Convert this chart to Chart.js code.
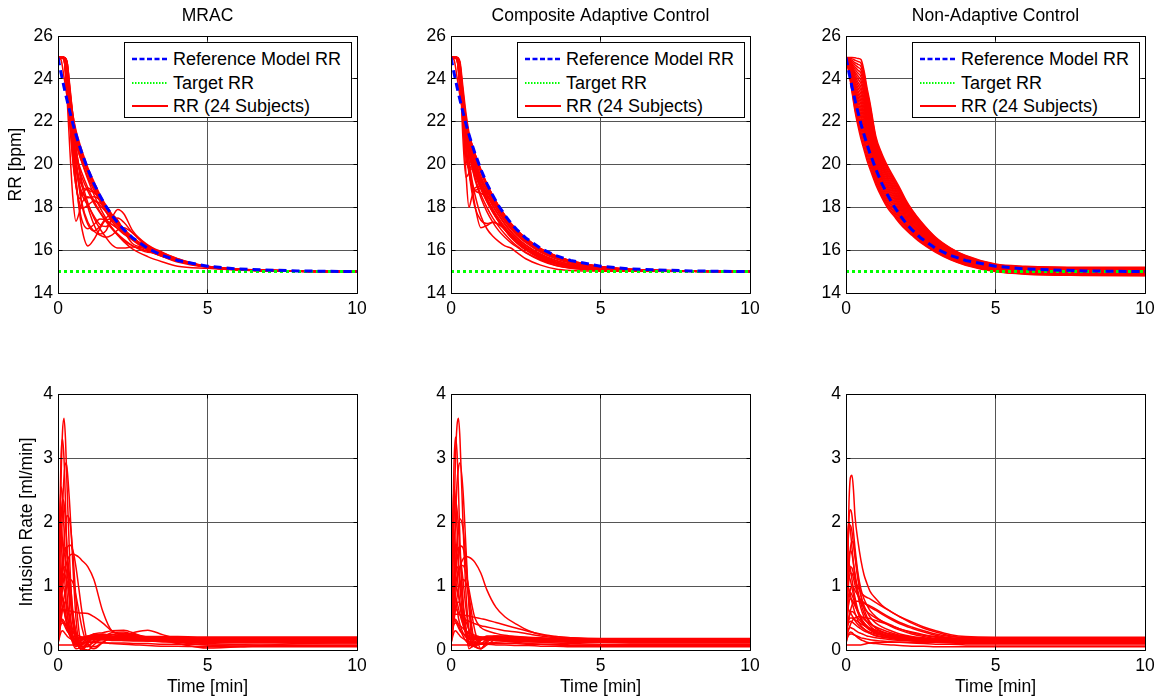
<!DOCTYPE html>
<html>
<head>
<meta charset="utf-8">
<script src="https://cdn.jsdelivr.net/npm/chart.js@4.4.1/dist/chart.umd.min.js"></script>
<style>
  body { margin: 0; background: #fff; width: 1163px; height: 700px; overflow: hidden; position: relative;
         font-family: 'Liberation Sans', Arial, Helvetica, sans-serif; }
  canvas { position: absolute; }
  .legend { position: absolute; box-sizing: border-box; width: 228px; height: 76px; border: 1px solid #000; background: #fff; }
  .legend .row { position: absolute; left: 0; height: 22px; line-height: 22px; font-size: 18px; color: #000; white-space: nowrap; }
  .legend .row svg { position: absolute; left: 7px; top: 0; }
  .legend .row span { position: absolute; left: 48px; top: 0; }
</style>
</head>
<body>
<canvas id="rrMrac"></canvas>
<canvas id="rrComposite"></canvas>
<canvas id="rrNonAdaptive"></canvas>
<canvas id="infMrac"></canvas>
<canvas id="infComposite"></canvas>
<canvas id="infNonAdaptive"></canvas>

<script>
// ---- data: respiratory rate (top row) ----
const timesRR = [0, 0.1, 0.2, 0.3, 0.4, 0.5, 0.6, 0.7, 0.8, 1.0, 1.2, 1.4, 1.6, 1.8, 2.0, 2.2, 2.5, 3.0, 3.5, 4.0, 5.0, 6.0, 8.0, 10];
const refRR = [25, 24.29, 23.62, 23.01, 22.44, 21.90, 21.41, 20.95, 20.53, 19.77, 19.11, 18.55, 18.06, 17.64, 17.27, 16.96, 16.57, 16.08, 15.75, 15.52, 15.25, 15.12, 15.03, 15.0];
const targetTimes = [0, 10];
const targetRR = [15, 15];

const mracRR = [
  [25,24.9,24.1,23.2,22.5,21.9,21.4,20.95,20.5,19.75,19.1,18.55,18.05,17.63,17.26,16.95,16.56,16.07,15.74,15.51,15.24,15.11,15.03,15],
  [25,25,24.9,23.6,22.6,21.9,21.35,20.9,20.45,19.7,19.05,18.5,18.0,17.6,17.22,16.92,16.53,16.05,15.73,15.5,15.23,15.11,15.03,15],
  [25,25,25,24.6,23.0,22.0,21.3,20.8,20.4,19.65,19.0,18.45,17.98,17.57,17.2,16.9,16.5,16.02,15.71,15.49,15.22,15.1,15.02,15],
  [25,25,24.95,24.2,22.4,21.5,21.0,20.6,20.25,19.6,19.0,18.5,18.02,17.6,17.25,16.95,16.56,16.07,15.74,15.51,15.24,15.11,15.03,15],
  [25,25,24.9,23.2,20.6,18.4,17.35,17.7,18.2,18.5,18.35,18.1,17.8,17.5,17.2,16.92,16.55,16.06,15.73,15.5,15.23,15.11,15.03,15],
  [25,25,24.95,24.0,22.0,20.2,19.0,18.4,18.6,18.9,18.7,18.4,18.0,17.6,17.25,16.94,16.55,16.06,15.73,15.5,15.23,15.11,15.03,15],
  [25,25,25,24.7,22.9,21.0,19.4,18.0,17.0,16.2,16.5,17.0,17.4,17.45,17.3,17.0,16.6,16.1,15.75,15.5,15.22,15.1,15.02,15],
  [25,25,25,24.8,23.6,22.2,20.9,19.8,19.0,18.0,17.2,16.75,16.9,17.5,17.9,17.7,16.9,16.25,15.9,15.6,15.25,15.1,15.02,15],
  [25,25,25,24.8,23.4,22.0,20.8,19.9,19.2,18.2,17.5,17.0,16.6,16.25,16.1,16.1,16.15,16.05,15.8,15.5,15.2,15.09,15.02,15],
  [25,25,25,24.5,22.8,21.3,20.1,19.2,18.6,18.1,17.6,17.2,17.1,17.35,17.5,17.3,16.8,16.15,15.8,15.5,15.22,15.1,15.02,15],
  [25,25,25,24.6,23.2,21.7,20.3,19.1,18.2,17.3,16.9,16.7,16.6,16.7,16.95,17.05,16.8,16.2,15.85,15.55,15.23,15.1,15.02,15],
  [25,25,24.95,24.1,22.4,20.9,19.8,19.1,18.7,18.45,18.5,18.35,18.0,17.6,17.25,16.95,16.55,16.06,15.73,15.5,15.23,15.11,15.03,15],
  [25,25,25,24.6,22.6,20.7,19.2,18.1,17.4,17.0,17.2,17.45,17.4,17.2,17.0,16.8,16.5,16.05,15.75,15.5,15.22,15.1,15.02,15],
  [25,25,24.9,23.9,22.6,21.8,21.2,20.7,20.3,19.55,18.9,18.3,17.8,17.35,17.0,16.75,16.5,16.2,15.85,15.55,15.22,15.1,15.02,15],
  [25,25,24.95,24.0,22.5,21.6,21.0,20.5,20.1,19.3,18.6,18.0,17.5,17.05,16.7,16.4,16.05,15.7,15.45,15.25,15.15,15.08,15.02,15],
  [25,25,25,24.4,23.3,22.3,21.6,21.1,20.65,19.85,19.2,18.6,18.1,17.68,17.3,16.98,16.58,16.08,15.75,15.52,15.25,15.12,15.03,15],
  [25,25,24.9,23.6,21.8,20.1,19.0,18.3,17.95,18.1,18.3,18.2,17.95,17.6,17.25,16.95,16.55,16.07,15.74,15.5,15.23,15.11,15.03,15],
  [25,25,25,24.7,23.2,21.6,20.2,19.0,18.1,17.2,16.9,17.1,17.5,17.65,17.4,16.9,16.3,16.1,15.85,15.55,15.22,15.1,15.02,15],
  [25,25,24.95,23.8,22.7,21.9,21.35,20.9,20.48,19.72,19.07,18.52,18.03,17.61,17.24,16.93,16.54,16.06,15.73,15.5,15.23,15.11,15.03,15],
  [25,25,25,24.3,22.9,21.8,21.1,20.55,20.1,19.4,18.8,18.3,17.85,17.45,17.1,16.82,16.46,16.0,15.7,15.48,15.22,15.1,15.02,15],
  [25,25,24.95,24.0,22.3,21.2,20.5,20.0,19.6,18.9,18.3,17.8,17.4,17.05,16.75,16.5,16.2,15.9,15.85,15.6,15.2,15.08,15.02,15],
  [25,25,25,24.5,22.5,21.2,20.4,19.85,19.4,18.75,18.2,17.75,17.35,17.0,16.7,16.45,16.2,15.95,15.7,15.45,15.2,15.08,15.02,15],
  [25,25,25,24.8,23.5,22.3,21.5,20.95,20.5,19.75,19.1,18.55,18.05,17.63,17.26,16.95,16.56,16.07,15.74,15.51,15.24,15.11,15.03,15],
  [25,25,24.9,23.4,21.9,20.8,20.0,19.4,19.0,18.8,18.7,18.45,18.05,17.62,17.25,16.95,16.55,16.06,15.73,15.5,15.23,15.11,15.03,15]
];

const compositeRR = [
  [25,24.9,24.1,23.2,22.5,21.9,21.4,20.95,20.5,19.75,19.1,18.55,18.05,17.63,17.26,16.95,16.56,16.07,15.74,15.51,15.24,15.11,15.03,15],
  [25,25,24.9,23.7,22.6,21.8,21.2,20.7,20.25,19.45,18.8,18.25,17.75,17.35,17.0,16.7,16.35,15.9,15.6,15.4,15.18,15.08,15.02,15],
  [25,25,25,24.3,21.2,19.4,19.6,19.8,19.7,19.3,18.8,18.3,17.85,17.45,17.1,16.8,16.45,15.98,15.68,15.46,15.2,15.09,15.02,15],
  [25,25,25,24.2,22.0,19.6,18.0,18.5,18.9,19.0,18.7,18.3,17.85,17.45,17.1,16.8,16.45,15.98,15.68,15.46,15.2,15.09,15.02,15],
  [25,25,25,24.6,23.0,21.5,20.2,19.0,18.1,17.05,17.15,17.3,17.2,17.0,16.75,16.5,16.15,15.75,15.45,15.28,15.12,15.05,15.01,15],
  [25,25,25,24.5,22.8,21.4,20.2,19.3,18.6,17.6,17.0,16.65,16.4,16.2,16.1,15.9,15.6,15.3,15.12,15.05,15.02,15.01,15,15],
  [25,25,24.9,23.9,22.4,21.3,20.5,19.9,19.4,18.6,18.0,17.5,17.1,16.75,16.45,16.2,15.9,15.55,15.3,15.17,15.07,15.03,15.01,15],
  [25,25,25,24.7,23.4,22.2,21.3,20.6,20.0,19.1,18.4,17.85,17.4,17.0,16.7,16.45,16.12,15.7,15.42,15.26,15.1,15.04,15.01,15],
  [25,25,24.95,24.0,22.7,21.7,21.0,20.45,20.0,19.25,18.6,18.1,17.65,17.25,16.9,16.6,16.25,15.82,15.53,15.35,15.15,15.06,15.02,15],
  [25,25,25,24.4,22.5,20.8,19.6,19.0,18.8,18.9,18.6,18.2,17.8,17.4,17.05,16.75,16.4,15.95,15.65,15.44,15.19,15.08,15.02,15],
  [25,25,24.95,23.9,22.7,21.9,21.35,20.9,20.48,19.72,19.07,18.52,18.03,17.61,17.24,16.93,16.54,16.06,15.73,15.5,15.23,15.11,15.03,15],
  [25,25,25,24.6,23.1,22.0,21.3,20.8,20.35,19.6,18.95,18.4,17.92,17.5,17.14,16.84,16.46,16.0,15.68,15.46,15.21,15.09,15.02,15],
  [25,25,25,24.4,22.6,21.0,19.7,18.7,18.0,17.4,17.25,17.3,17.2,16.95,16.65,16.4,16.05,15.65,15.38,15.22,15.09,15.04,15.01,15],
  [25,25,24.9,23.5,22.3,21.4,20.7,20.2,19.75,19.0,18.35,17.8,17.35,16.95,16.6,16.33,16.0,15.6,15.35,15.2,15.08,15.03,15.01,15],
  [25,25,25,24.8,23.6,22.4,21.5,20.8,20.2,19.3,18.6,18.05,17.6,17.2,16.85,16.57,16.22,15.78,15.5,15.32,15.13,15.05,15.01,15],
  [25,25,24.95,24.0,22.3,20.7,19.7,19.1,18.8,18.65,18.5,18.2,17.82,17.45,17.1,16.8,16.42,15.96,15.66,15.45,15.2,15.09,15.02,15],
  [25,25,25,24.5,23.2,22.1,21.4,20.9,20.45,19.7,19.05,18.5,18.0,17.6,17.22,16.92,16.53,16.05,15.73,15.5,15.23,15.11,15.03,15],
  [25,25,25,24.3,22.9,21.6,20.6,19.9,19.3,18.45,17.8,17.3,16.9,16.6,16.35,16.15,15.88,15.52,15.28,15.15,15.06,15.02,15.01,15],
  [25,25,24.9,23.8,22.5,21.5,20.8,20.3,19.85,19.1,18.45,17.92,17.47,17.08,16.75,16.47,16.12,15.7,15.43,15.27,15.11,15.05,15.01,15],
  [25,25,25,24.6,22.9,21.5,20.6,20.0,19.55,18.85,18.25,17.75,17.32,16.95,16.63,16.37,16.05,15.65,15.4,15.25,15.1,15.04,15.01,15],
  [25,25,24.95,24.2,22.9,22.0,21.4,20.93,20.5,19.75,19.09,18.54,18.05,17.63,17.26,16.95,16.56,16.07,15.74,15.51,15.24,15.11,15.03,15],
  [25,25,25,24.1,21.9,20.3,19.85,19.9,19.8,19.35,18.85,18.35,17.9,17.5,17.15,16.85,16.48,16.0,15.7,15.47,15.21,15.09,15.02,15],
  [25,25,25,24.7,23.3,22.0,21.0,20.3,19.75,18.95,18.3,17.78,17.34,16.96,16.64,16.38,16.05,15.65,15.4,15.25,15.1,15.04,15.01,15],
  [25,25,24.9,23.6,22.2,21.2,20.55,20.05,19.6,18.9,18.3,17.8,17.38,17.0,16.68,16.42,16.1,15.68,15.42,15.26,15.1,15.04,15.01,15]
];

const nonAdaptiveRR = [
  [25,24.3,23.4,22.5,21.8,21.2,20.7,20.2,19.8,19.05,18.45,17.95,17.6,17.25,16.95,16.7,16.35,15.9,15.55,15.3,15.0,14.88,14.82,14.8],
  [25,24.33,23.47,22.61,21.94,21.36,20.86,20.35,19.93,19.15,18.54,18.03,17.68,17.32,17.01,16.75,16.39,15.93,15.57,15.32,15.02,14.9,14.84,14.82],
  [25,24.36,23.54,22.72,22.07,21.52,21.02,20.5,20.07,19.25,18.63,18.12,17.76,17.39,17.07,16.8,16.44,15.96,15.6,15.34,15.03,14.91,14.85,14.83],
  [25,24.39,23.61,22.82,22.21,21.68,21.18,20.64,20.2,19.34,18.72,18.2,17.83,17.46,17.13,16.86,16.48,15.99,15.62,15.36,15.05,14.93,14.87,14.85],
  [25,24.42,23.68,22.93,22.35,21.84,21.34,20.79,20.34,19.44,18.81,18.29,17.91,17.54,17.19,16.91,16.52,16.02,15.65,15.38,15.06,14.94,14.89,14.87],
  [25,24.45,23.75,23.04,22.48,22.0,21.5,20.94,20.47,19.54,18.89,18.37,17.99,17.61,17.25,16.96,16.57,16.05,15.67,15.4,15.08,14.96,14.9,14.89],
  [25,24.48,23.82,23.15,22.62,22.17,21.67,21.09,20.61,19.64,18.99,18.46,18.07,17.68,17.32,17.01,16.61,16.08,15.69,15.42,15.09,14.98,14.92,14.9],
  [25,24.51,23.89,23.25,22.76,22.32,21.82,21.23,20.74,19.73,19.07,18.54,18.15,17.75,17.38,17.06,16.65,16.11,15.72,15.44,15.11,14.99,14.94,14.92],
  [25,24.54,23.96,23.36,22.9,22.49,21.99,21.38,20.88,19.83,19.16,18.63,18.23,17.82,17.44,17.12,16.7,16.14,15.74,15.46,15.12,15.01,14.95,14.94],
  [25,24.57,24.03,23.47,23.03,22.65,22.15,21.53,21.01,19.93,19.25,18.71,18.3,17.9,17.5,17.17,16.74,16.17,15.77,15.48,15.14,15.02,14.97,14.96],
  [25,24.6,24.1,23.58,23.17,22.81,22.31,21.68,21.15,20.03,19.34,18.8,18.38,17.97,17.56,17.22,16.79,16.2,15.79,15.5,15.15,15.04,14.99,14.97],
  [25,24.63,24.16,23.69,23.31,22.97,22.47,21.83,21.28,20.13,19.43,18.88,18.46,18.04,17.62,17.27,16.83,16.23,15.81,15.52,15.17,15.06,15.0,14.99],
  [25,24.67,24.24,23.79,23.44,23.13,22.63,21.97,21.42,20.22,19.52,18.97,18.54,18.11,17.68,17.33,16.87,16.27,15.84,15.53,15.18,15.07,15.02,15.01],
  [25,24.7,24.3,23.9,23.58,23.29,22.79,22.12,21.55,20.32,19.61,19.05,18.62,18.18,17.74,17.38,16.92,16.3,15.86,15.55,15.2,15.09,15.03,15.03],
  [25,24.73,24.37,24.01,23.72,23.45,22.95,22.27,21.69,20.42,19.7,19.14,18.7,18.25,17.8,17.43,16.96,16.33,15.88,15.57,15.21,15.11,15.05,15.04],
  [25,24.76,24.44,24.12,23.85,23.61,23.11,22.42,21.82,20.52,19.79,19.22,18.77,18.33,17.86,17.48,17.0,16.36,15.91,15.59,15.23,15.12,15.07,15.06],
  [25,24.79,24.51,24.23,23.99,23.78,23.28,22.57,21.96,20.62,19.88,19.31,18.85,18.4,17.92,17.54,17.05,16.39,15.93,15.61,15.24,15.14,15.08,15.08],
  [25,24.82,24.58,24.33,24.13,23.93,23.43,22.71,22.09,20.71,19.97,19.39,18.93,18.47,17.98,17.59,17.09,16.42,15.96,15.63,15.26,15.15,15.1,15.1],
  [25,24.85,24.65,24.44,24.27,24.1,23.6,22.86,22.23,20.81,20.06,19.48,19.01,18.54,18.05,17.64,17.13,16.45,15.98,15.65,15.27,15.17,15.12,15.11],
  [25,24.88,24.72,24.55,24.4,24.26,23.76,23.01,22.36,20.91,20.14,19.56,19.09,18.61,18.11,17.69,17.18,16.48,16.0,15.67,15.29,15.19,15.13,15.13],
  [25,24.91,24.79,24.66,24.54,24.42,23.92,23.16,22.5,21.01,20.23,19.65,19.17,18.69,18.17,17.74,17.22,16.51,16.03,15.69,15.3,15.2,15.15,15.15],
  [25,24.94,24.86,24.76,24.68,24.58,24.08,23.3,22.63,21.1,20.32,19.73,19.24,18.76,18.23,17.8,17.26,16.54,16.05,15.71,15.32,15.22,15.17,15.17],
  [25,24.97,24.93,24.87,24.81,24.74,24.24,23.45,22.77,21.2,20.41,19.82,19.32,18.83,18.29,17.85,17.31,16.57,16.08,15.73,15.33,15.23,15.18,15.18],
  [25,25,25,24.98,24.95,24.9,24.4,23.6,22.9,21.3,20.5,19.9,19.4,18.9,18.35,17.9,17.35,16.6,16.1,15.75,15.35,15.25,15.2,15.2]
];

// ---- data: infusion rate (bottom row) ----
const timesInf = [0, 0.05, 0.1, 0.15, 0.2, 0.25, 0.3, 0.4, 0.5, 0.6, 0.7, 0.8, 1.0, 1.2, 1.5, 1.8, 2.2, 2.6, 3.0, 3.5, 4.0, 5.0, 6.5, 8.0, 10];

const mracInf = [
  [0.3,1.2,2.6,3.4,3.62,3.3,2.6,1.3,0.5,0.15,0.05,0.1,0.2,0.22,0.2,0.18,0.2,0.19,0.18,0.17,0.17,0.17,0.16,0.17,0.17],
  [0.4,1.8,3.0,3.3,3.0,2.3,1.5,0.6,0.2,0.05,0.1,0.18,0.22,0.2,0.18,0.2,0.2,0.18,0.17,0.17,0.16,0.16,0.16,0.16,0.16],
  [0.2,0.6,1.4,2.2,2.7,2.92,2.85,2.2,1.3,0.5,0.1,0.02,0.12,0.22,0.24,0.2,0.18,0.2,0.19,0.19,0.19,0.19,0.19,0.19,0.19],
  [0.5,1.9,2.55,2.4,1.9,1.4,0.9,0.4,0.2,0.15,0.18,0.2,0.2,0.18,0.17,0.17,0.16,0.16,0.15,0.15,0.15,0.14,0.14,0.14,0.14],
  [0.3,1.2,2.0,2.35,2.3,2.0,1.6,0.9,0.4,0.15,0.05,0.08,0.15,0.2,0.2,0.18,0.17,0.17,0.16,0.15,0.14,0.13,0.13,0.13,0.13],
  [0.6,1.8,1.95,1.7,1.3,0.9,0.6,0.3,0.2,0.18,0.18,0.17,0.17,0.16,0.16,0.15,0.15,0.14,0.14,0.13,0.13,0.12,0.12,0.12,0.12],
  [0.2,0.5,0.9,1.25,1.45,1.55,1.6,1.64,1.55,1.3,0.95,0.6,0.1,0.02,0.12,0.2,0.22,0.2,0.2,0.2,0.2,0.2,0.2,0.2,0.2],
  [0.15,0.4,0.7,0.95,1.15,1.28,1.38,1.48,1.5,1.48,1.45,1.4,1.3,1.1,0.6,0.3,0.24,0.22,0.21,0.21,0.21,0.2,0.2,0.2,0.2],
  [0.6,0.62,0.63,0.63,0.63,0.62,0.62,0.61,0.6,0.59,0.58,0.58,0.57,0.52,0.42,0.3,0.22,0.2,0.19,0.18,0.16,0.15,0.15,0.15,0.15],
  [0.08,0.08,0.08,0.08,0.08,0.08,0.08,0.08,0.08,0.08,0.08,0.08,0.08,0.12,0.18,0.2,0.2,0.18,0.17,0.16,0.15,0.14,0.13,0.13,0.13],
  [0.3,0.7,1.0,1.2,1.3,1.28,1.2,0.9,0.55,0.25,0.05,0.0,0.1,0.2,0.25,0.22,0.2,0.2,0.18,0.16,0.15,0.14,0.14,0.14,0.14],
  [0.4,0.8,0.95,1.0,0.95,0.8,0.6,0.3,0.1,0.02,0.03,0.1,0.2,0.25,0.27,0.3,0.31,0.25,0.18,0.15,0.14,0.13,0.12,0.12,0.12],
  [0.25,0.5,0.7,0.8,0.75,0.6,0.45,0.25,0.12,0.08,0.1,0.15,0.2,0.22,0.2,0.18,0.22,0.28,0.31,0.24,0.18,0.15,0.13,0.13,0.13],
  [0.2,0.45,0.6,0.65,0.6,0.5,0.4,0.25,0.18,0.15,0.15,0.18,0.22,0.24,0.22,0.2,0.2,0.2,0.18,0.15,0.1,0.03,0.06,0.1,0.11],
  [0.15,0.4,0.8,1.3,1.7,1.95,2.1,2.0,1.5,0.8,0.3,0.05,0.05,0.15,0.22,0.24,0.22,0.2,0.18,0.18,0.18,0.18,0.18,0.18,0.18],
  [0.3,0.7,1.1,1.4,1.55,1.6,1.5,1.1,0.6,0.25,0.05,0.02,0.15,0.25,0.22,0.2,0.19,0.18,0.17,0.16,0.15,0.14,0.14,0.14,0.14],
  [0.5,0.55,0.5,0.45,0.4,0.35,0.3,0.25,0.22,0.2,0.2,0.2,0.2,0.19,0.18,0.18,0.17,0.17,0.16,0.16,0.15,0.15,0.15,0.15,0.15],
  [0.5,0.85,0.9,0.8,0.65,0.5,0.38,0.22,0.14,0.12,0.14,0.17,0.2,0.2,0.19,0.18,0.17,0.16,0.15,0.14,0.13,0.12,0.11,0.11,0.11],
  [0.2,0.6,0.9,1.1,1.2,1.15,1.05,0.8,0.5,0.28,0.12,0.04,0.0,0.08,0.2,0.27,0.28,0.22,0.18,0.17,0.16,0.15,0.15,0.15,0.15],
  [0.3,0.35,0.4,0.42,0.42,0.4,0.38,0.33,0.28,0.25,0.22,0.2,0.17,0.16,0.16,0.16,0.15,0.15,0.14,0.13,0.12,0.1,0.08,0.07,0.07],
  [0.1,0.3,0.5,0.65,0.73,0.75,0.7,0.5,0.3,0.18,0.15,0.16,0.18,0.2,0.22,0.24,0.26,0.24,0.2,0.16,0.12,0.08,0.06,0.06,0.06],
  [0.15,0.35,0.45,0.48,0.45,0.4,0.33,0.22,0.14,0.1,0.09,0.1,0.12,0.13,0.12,0.1,0.09,0.08,0.07,0.06,0.06,0.05,0.05,0.05,0.05],
  [0.1,0.25,0.45,0.65,0.82,0.95,1.04,1.1,1.05,0.85,0.6,0.35,0.08,0.05,0.12,0.2,0.25,0.22,0.2,0.18,0.17,0.16,0.16,0.16,0.16],
  [0.1,0.2,0.28,0.3,0.28,0.25,0.22,0.18,0.15,0.13,0.12,0.12,0.12,0.12,0.11,0.11,0.11,0.1,0.1,0.09,0.09,0.08,0.08,0.08,0.08]
];

const compositeInf = [
  [0.3,0.9,2.0,3.0,3.5,3.62,3.3,2.0,0.9,0.3,0.05,0.08,0.18,0.2,0.19,0.18,0.17,0.17,0.16,0.16,0.16,0.15,0.15,0.15,0.15],
  [0.4,1.7,2.9,3.33,3.1,2.5,1.7,0.7,0.25,0.06,0.12,0.18,0.2,0.19,0.18,0.18,0.17,0.17,0.16,0.16,0.16,0.16,0.16,0.16,0.16],
  [0.2,0.5,1.2,2.0,2.6,2.85,2.92,2.5,1.6,0.7,0.15,0.05,0.15,0.22,0.22,0.2,0.19,0.18,0.18,0.17,0.17,0.17,0.17,0.17,0.17],
  [0.5,1.9,2.55,2.35,1.9,1.4,1.0,0.5,0.25,0.18,0.18,0.18,0.18,0.17,0.17,0.16,0.16,0.15,0.15,0.15,0.15,0.14,0.14,0.14,0.14],
  [0.3,1.3,2.1,2.34,2.2,1.9,1.5,0.8,0.35,0.12,0.06,0.1,0.17,0.19,0.19,0.18,0.17,0.16,0.16,0.15,0.15,0.14,0.13,0.13,0.13],
  [0.7,1.93,1.85,1.6,1.25,0.95,0.7,0.4,0.25,0.2,0.19,0.18,0.17,0.17,0.16,0.16,0.15,0.15,0.14,0.14,0.13,0.13,0.12,0.12,0.12],
  [0.2,0.45,0.8,1.15,1.4,1.55,1.63,1.6,1.3,0.8,0.35,0.08,0.02,0.15,0.22,0.22,0.2,0.19,0.18,0.17,0.17,0.16,0.16,0.16,0.16],
  [0.15,0.35,0.6,0.85,1.05,1.2,1.3,1.42,1.46,1.45,1.42,1.37,1.2,0.94,0.67,0.52,0.4,0.3,0.24,0.21,0.19,0.18,0.18,0.18,0.18],
  [0.5,0.55,0.56,0.56,0.56,0.56,0.55,0.55,0.54,0.53,0.52,0.51,0.49,0.47,0.43,0.39,0.34,0.29,0.25,0.21,0.19,0.17,0.17,0.17,0.17],
  [0.08,0.08,0.08,0.08,0.08,0.08,0.08,0.08,0.08,0.08,0.08,0.08,0.09,0.1,0.12,0.13,0.13,0.13,0.13,0.13,0.13,0.13,0.13,0.13,0.13],
  [0.3,0.7,1.0,1.2,1.3,1.25,1.1,0.7,0.3,0.02,0.05,0.12,0.2,0.2,0.19,0.18,0.17,0.16,0.16,0.15,0.15,0.14,0.14,0.14,0.14],
  [0.4,0.75,0.95,1.0,0.95,0.85,0.72,0.5,0.32,0.2,0.1,0.05,0.02,0.12,0.2,0.2,0.19,0.18,0.17,0.17,0.16,0.15,0.15,0.15,0.15],
  [0.25,0.5,0.7,0.8,0.75,0.65,0.55,0.4,0.3,0.25,0.22,0.21,0.2,0.2,0.19,0.19,0.18,0.17,0.17,0.16,0.16,0.15,0.15,0.15,0.15],
  [0.2,0.45,0.6,0.65,0.62,0.58,0.55,0.5,0.47,0.45,0.43,0.41,0.38,0.36,0.33,0.3,0.28,0.25,0.22,0.19,0.17,0.15,0.14,0.14,0.14],
  [0.15,0.4,0.8,1.3,1.7,1.95,2.05,1.9,1.4,0.75,0.3,0.1,0.1,0.17,0.2,0.19,0.18,0.18,0.17,0.17,0.17,0.16,0.16,0.16,0.16],
  [0.3,0.7,1.1,1.4,1.55,1.6,1.5,1.1,0.65,0.3,0.1,0.08,0.16,0.2,0.2,0.19,0.18,0.17,0.16,0.16,0.15,0.15,0.15,0.15,0.15],
  [0.5,0.55,0.5,0.45,0.4,0.35,0.3,0.26,0.23,0.21,0.2,0.2,0.19,0.19,0.18,0.18,0.17,0.17,0.16,0.16,0.16,0.15,0.15,0.15,0.15],
  [0.5,0.85,0.9,0.8,0.65,0.5,0.4,0.27,0.2,0.17,0.16,0.16,0.16,0.16,0.15,0.15,0.14,0.14,0.13,0.13,0.12,0.12,0.11,0.11,0.11],
  [0.2,0.5,0.8,1.0,1.15,1.25,1.3,1.32,1.2,0.95,0.7,0.5,0.35,0.3,0.26,0.23,0.21,0.2,0.19,0.18,0.18,0.17,0.17,0.17,0.17],
  [0.3,0.35,0.4,0.42,0.42,0.4,0.38,0.34,0.3,0.27,0.25,0.23,0.2,0.18,0.16,0.14,0.12,0.1,0.09,0.08,0.07,0.07,0.07,0.07,0.07],
  [0.1,0.3,0.5,0.65,0.73,0.75,0.72,0.6,0.45,0.32,0.24,0.2,0.17,0.16,0.16,0.15,0.14,0.13,0.12,0.11,0.1,0.09,0.09,0.09,0.09],
  [0.15,0.35,0.45,0.48,0.45,0.4,0.33,0.22,0.14,0.1,0.09,0.09,0.09,0.09,0.08,0.08,0.07,0.07,0.06,0.06,0.05,0.05,0.05,0.05,0.05],
  [0.1,0.25,0.45,0.65,0.82,0.95,1.04,1.1,1.05,0.85,0.55,0.3,0.02,0.08,0.17,0.2,0.2,0.19,0.18,0.18,0.17,0.17,0.17,0.17,0.17],
  [0.1,0.2,0.28,0.3,0.28,0.25,0.22,0.18,0.15,0.13,0.12,0.12,0.11,0.11,0.1,0.1,0.1,0.09,0.09,0.09,0.08,0.08,0.08,0.08,0.08]
];

const nonAdaptiveInf = [
  [0.3,1.2,2.3,2.7,2.73,2.5,2.1,1.7,1.4,1.18,1.04,0.92,0.8,0.7,0.6,0.52,0.42,0.34,0.28,0.22,0.19,0.18,0.18,0.18,0.18],
  [0.3,1.3,2.05,2.19,2.1,1.85,1.6,1.2,0.95,0.8,0.7,0.62,0.52,0.45,0.37,0.31,0.25,0.21,0.18,0.16,0.15,0.14,0.14,0.14,0.14],
  [0.5,1.7,2.0,1.85,1.6,1.35,1.15,0.85,0.65,0.52,0.44,0.38,0.3,0.26,0.22,0.19,0.17,0.16,0.15,0.14,0.14,0.13,0.13,0.13,0.13],
  [0.6,1.3,1.35,1.25,1.1,0.95,0.82,0.62,0.5,0.42,0.37,0.33,0.28,0.24,0.2,0.18,0.16,0.15,0.15,0.14,0.14,0.13,0.13,0.13,0.13],
  [0.4,0.9,1.2,1.3,1.28,1.2,1.1,0.98,0.9,0.85,0.82,0.8,0.74,0.68,0.6,0.52,0.44,0.36,0.3,0.24,0.21,0.2,0.2,0.2,0.2],
  [0.2,0.5,0.8,0.95,1.0,0.98,0.93,0.85,0.78,0.74,0.7,0.67,0.62,0.56,0.48,0.41,0.34,0.28,0.23,0.19,0.17,0.15,0.15,0.15,0.15],
  [0.25,0.8,1.3,1.6,1.7,1.65,1.5,1.15,0.85,0.65,0.52,0.44,0.34,0.28,0.23,0.2,0.18,0.17,0.16,0.16,0.15,0.15,0.15,0.15,0.15],
  [0.6,0.65,0.62,0.58,0.54,0.5,0.46,0.4,0.36,0.33,0.3,0.28,0.25,0.23,0.2,0.18,0.17,0.16,0.15,0.15,0.14,0.14,0.14,0.14,0.14],
  [0.08,0.08,0.08,0.08,0.08,0.08,0.08,0.08,0.08,0.09,0.1,0.11,0.12,0.12,0.12,0.12,0.12,0.12,0.12,0.12,0.12,0.12,0.12,0.12,0.12],
  [0.4,0.75,0.88,0.9,0.86,0.8,0.72,0.58,0.47,0.4,0.35,0.31,0.26,0.23,0.2,0.18,0.16,0.15,0.14,0.13,0.13,0.12,0.12,0.12,0.12],
  [0.5,1.05,1.15,1.08,0.97,0.86,0.76,0.6,0.5,0.43,0.38,0.34,0.29,0.25,0.21,0.19,0.17,0.16,0.15,0.15,0.14,0.14,0.14,0.14,0.14],
  [0.3,0.42,0.48,0.5,0.5,0.49,0.47,0.44,0.41,0.38,0.36,0.34,0.31,0.28,0.25,0.22,0.2,0.18,0.17,0.16,0.15,0.14,0.14,0.14,0.14],
  [0.2,0.35,0.5,0.62,0.7,0.74,0.76,0.76,0.75,0.73,0.71,0.69,0.64,0.58,0.5,0.43,0.36,0.3,0.25,0.21,0.19,0.19,0.19,0.19,0.19],
  [0.2,0.3,0.34,0.35,0.34,0.33,0.31,0.28,0.26,0.24,0.22,0.21,0.19,0.18,0.16,0.15,0.14,0.13,0.12,0.11,0.1,0.1,0.1,0.1,0.1],
  [0.4,1.1,1.45,1.55,1.5,1.35,1.2,0.92,0.72,0.58,0.49,0.42,0.34,0.29,0.24,0.21,0.19,0.18,0.17,0.17,0.16,0.16,0.16,0.16,0.16],
  [0.15,0.25,0.33,0.4,0.45,0.48,0.5,0.52,0.52,0.51,0.5,0.49,0.46,0.43,0.38,0.33,0.28,0.24,0.21,0.18,0.17,0.17,0.17,0.17,0.17],
  [0.35,1.4,1.9,1.95,1.85,1.65,1.45,1.1,0.85,0.7,0.6,0.52,0.42,0.36,0.3,0.25,0.21,0.19,0.17,0.16,0.15,0.15,0.15,0.15,0.15],
  [0.12,0.2,0.24,0.25,0.25,0.24,0.23,0.21,0.19,0.18,0.17,0.16,0.15,0.14,0.13,0.12,0.11,0.1,0.09,0.09,0.08,0.08,0.08,0.08,0.08],
  [0.7,1.0,0.95,0.85,0.75,0.66,0.58,0.46,0.38,0.33,0.29,0.26,0.22,0.2,0.18,0.16,0.15,0.14,0.13,0.13,0.12,0.12,0.12,0.12,0.12],
  [0.3,0.6,0.75,0.8,0.78,0.74,0.69,0.6,0.53,0.48,0.44,0.41,0.36,0.32,0.27,0.23,0.2,0.18,0.16,0.15,0.14,0.13,0.13,0.13,0.13],
  [0.25,0.38,0.43,0.45,0.44,0.42,0.4,0.36,0.33,0.3,0.28,0.26,0.23,0.21,0.19,0.17,0.15,0.14,0.13,0.12,0.11,0.11,0.11,0.11,0.11],
  [0.1,0.2,0.26,0.28,0.27,0.25,0.23,0.19,0.16,0.14,0.12,0.11,0.1,0.09,0.08,0.07,0.06,0.06,0.05,0.05,0.05,0.05,0.05,0.05,0.05],
  [0.3,0.8,1.1,1.2,1.2,1.12,1.02,0.86,0.74,0.66,0.6,0.56,0.5,0.45,0.39,0.33,0.27,0.23,0.2,0.18,0.17,0.17,0.17,0.17,0.17],
  [0.2,0.4,0.52,0.58,0.6,0.59,0.56,0.5,0.44,0.39,0.35,0.32,0.27,0.24,0.21,0.19,0.18,0.17,0.16,0.16,0.15,0.15,0.15,0.15,0.15]
];

const rrTicks = [14, 26, 2];
const infTicks = [0, 4, 1];
const timeTicks = [0, 10, 5];

// ---- layout ----
const FONT = "'Liberation Sans', Arial, Helvetica, sans-serif";
Chart.defaults.font.family = FONT;
Chart.defaults.color = '#000';

const Y_AXIS_W = 58;
const RIGHT_PAD = 17;   // must exceed half the "10" label + tick padding
const PLOT_W = 299;

const panels = [
  { id: 'rrMrac', plotLeft: 58, canvasTop: 0, kind: 'rr', title: 'MRAC', yTitle: 'RR [bpm]', subjects: mracRR },
  { id: 'rrComposite', plotLeft: 451, canvasTop: 0, kind: 'rr', title: 'Composite Adaptive Control', subjects: compositeRR },
  { id: 'rrNonAdaptive', plotLeft: 846, canvasTop: 0, kind: 'rr', title: 'Non-Adaptive Control', subjects: nonAdaptiveRR },
  { id: 'infMrac', plotLeft: 58, canvasTop: 374, kind: 'inf', yTitle: 'Infusion Rate [ml/min]', subjects: mracInf },
  { id: 'infComposite', plotLeft: 451, canvasTop: 374, kind: 'inf', subjects: compositeInf },
  { id: 'infNonAdaptive', plotLeft: 846, canvasTop: 374, kind: 'inf', subjects: nonAdaptiveInf }
];

function toPoints(times, values) {
  return values.map((v, i) => ({ x: times[i], y: v }));
}

// MATLAB-like box around the axes with small inward ticks
const axesBox = {
  id: 'axesBox',
  afterDatasetsDraw(chart) {
    const { ctx, chartArea: a, scales } = chart;
    const al = p => Math.round(p - 0.5) + 0.5;
    const l = al(a.left), r = al(a.right), t = al(a.top), b = al(a.bottom);
    ctx.save();
    ctx.strokeStyle = '#000';
    ctx.lineWidth = 1;
    ctx.beginPath();
    ctx.rect(l, t, r - l, b - t);
    scales.x.ticks.forEach(tk => {
      const px = al(scales.x.getPixelForValue(tk.value));
      ctx.moveTo(px, t); ctx.lineTo(px, t + 4);
      ctx.moveTo(px, b); ctx.lineTo(px, b - 4);
    });
    scales.y.ticks.forEach(tk => {
      const py = al(scales.y.getPixelForValue(tk.value));
      ctx.moveTo(l, py); ctx.lineTo(l + 4, py);
      ctx.moveTo(r, py); ctx.lineTo(r - 4, py);
    });
    ctx.stroke();
    ctx.restore();
  }
};

function checkLengths(times, rows, name) {
  rows.forEach((row, i) => {
    if (row.length !== times.length) throw new Error(name + '[' + i + '] has ' + row.length + ' values');
  });
}

function buildPanel(p) {
  const isRR = p.kind === 'rr';
  const times = isRR ? timesRR : timesInf;
  checkLengths(times, p.subjects, p.id);

  const canvas = document.getElementById(p.id);
  const width = Y_AXIS_W + PLOT_W + RIGHT_PAD;
  const height = isRR ? 333 : 326;
  canvas.width = width;
  canvas.height = height;
  canvas.style.left = (p.plotLeft - Y_AXIS_W) + 'px';
  canvas.style.top = p.canvasTop + 'px';
  canvas.style.width = width + 'px';
  canvas.style.height = height + 'px';

  const datasets = [];
  if (isRR) {
    datasets.push({ label: 'Reference Model RR', data: toPoints(timesRR, refRR),
      borderColor: '#0000ff', borderWidth: 3, borderDash: [8, 5] });
    datasets.push({ label: 'Target RR', data: toPoints(targetTimes, targetRR),
      borderColor: '#00ff00', borderWidth: 3, borderDash: [3, 3] });
  }
  p.subjects.forEach((vals, i) => {
    datasets.push({
      label: i === 0 ? 'RR (24 Subjects)' : 'Subject ' + (i + 1),
      data: toPoints(times, vals),
      borderColor: '#ff0000',
      borderWidth: 1.5,
      cubicInterpolationMode: 'monotone'
    });
  });

  const yt = isRR ? rrTicks : infTicks;
  const tickFont = { size: 17.5 };

  new Chart(canvas, {
    type: 'line',
    data: { datasets },
    options: {
      responsive: false,
      animation: false,
      events: [],
      layout: { padding: { top: isRR ? 0 : 20, right: RIGHT_PAD, bottom: 0, left: 0 } },
      elements: { point: { radius: 0 }, line: { fill: false } },
      plugins: {
        legend: { display: false },
        tooltip: { enabled: false },
        title: {
          display: !!p.title,
          text: p.title || '',
          fullSize: false,
          font: { size: 17.5, weight: 'normal' },
          color: '#000',
          padding: { top: 6, bottom: 9 }
        }
      },
      scales: {
        x: {
          type: 'linear',
          min: timeTicks[0], max: timeTicks[1],
          ticks: { stepSize: timeTicks[2], font: tickFont, color: '#000', padding: 6, maxRotation: 0 },
          grid: { color: '#555', lineWidth: 1, drawTicks: false },
          border: { display: false },
          title: { display: !isRR, text: 'Time [min]', font: { size: 17.5 }, color: '#000', padding: { top: 0, bottom: 2 } },
          afterFit: s => { s.height = isRR ? 40 : 50; }
        },
        y: {
          type: 'linear',
          min: yt[0], max: yt[1],
          ticks: { stepSize: yt[2], font: tickFont, color: '#000', padding: 5 },
          grid: { color: '#555', lineWidth: 1, drawTicks: false },
          border: { display: false },
          title: { display: !!p.yTitle, text: p.yTitle || '', font: { size: 17.5 }, color: '#000',
                   padding: { top: isRR ? 6 : 17, bottom: 0 } },
          afterFit: s => { s.width = Y_AXIS_W; }
        }
      }
    },
    plugins: [axesBox]
  });

  if (isRR) addLegend(p.plotLeft + PLOT_W, 36);
}

// legend box drawn as HTML over the top-right of each RR plot
function addLegend(plotRight, plotTop) {
  const box = document.createElement('div');
  box.className = 'legend';
  box.style.left = (plotRight - 233) + 'px';
  box.style.top = (plotTop + 6) + 'px';
  const rows = [
    { text: 'Reference Model RR', color: '#0000ff', dash: '5 2.5', w: 2.5, center: 16 },
    { text: 'Target RR', color: '#00ff00', dash: '1.5 1.5', w: 2, center: 39.5 },
    { text: 'RR (24 Subjects)', color: '#ff0000', dash: '', w: 2, center: 63 }
  ];
  rows.forEach(r => {
    const row = document.createElement('div');
    row.className = 'row';
    row.style.top = (r.center - 11) + 'px';
    row.innerHTML = '<svg width="36" height="22"><line x1="0" y1="11" x2="36" y2="11" stroke="' + r.color +
      '" stroke-width="' + r.w + '"' + (r.dash ? ' stroke-dasharray="' + r.dash + '"' : '') + '/></svg>' +
      '<span>' + r.text + '</span>';
    box.appendChild(row);
  });
  document.body.appendChild(box);
}

panels.forEach(buildPanel);
</script>
</body>
</html>
